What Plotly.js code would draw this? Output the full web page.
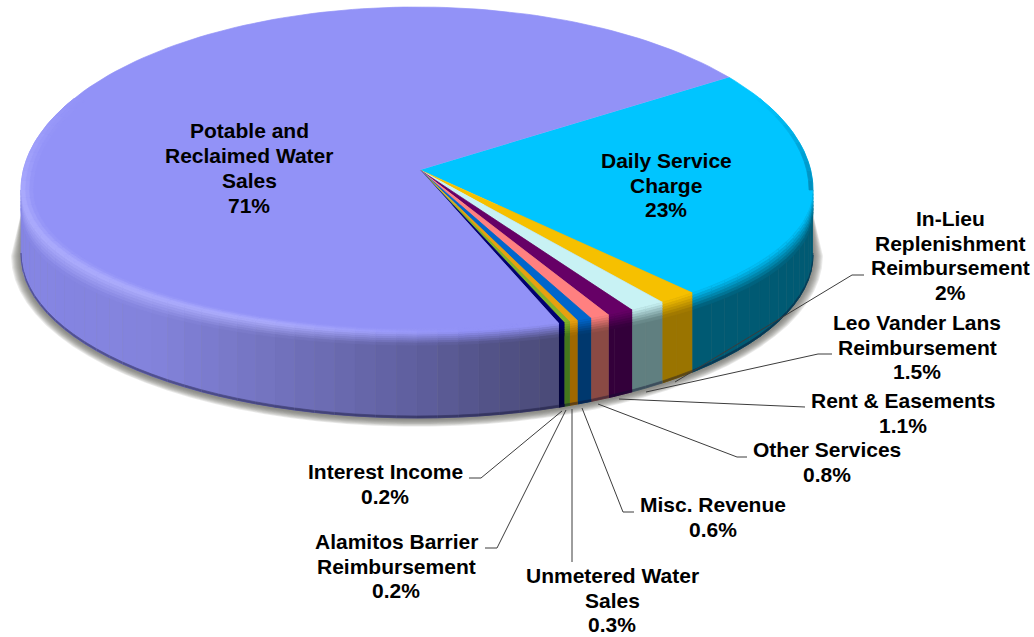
<!DOCTYPE html>
<html><head><meta charset="utf-8">
<script src="https://cdn.plot.ly/plotly-3.0.1.min.js"></script>
<style>html,body{margin:0;padding:0;background:#fff}#c{width:1034px;height:637px}</style>
</head><body><div id="c"></div>
<script>
// ---- data (shares as drawn; each rounds to its printed label) ----
const categories = ["Potable and Reclaimed Water Sales","Daily Service Charge","In-Lieu Replenishment Reimbursement","Leo Vander Lans Reimbursement","Rent & Easements","Other Services","Misc. Revenue","Unmetered Water Sales","Alamitos Barrier Reimbursement","Interest Income"];
const values = [70.5,23.4,1.6,1.5,1.1,0.8,0.6,0.34,0.24,0.24];
const valueLabels = ["71%","23%","2%","1.5%","1.1%","0.8%","0.6%","0.3%","0.2%","0.2%"];
const labelLines = [["Potable and","Reclaimed Water","Sales"],["Daily Service","Charge"],["In-Lieu","Replenishment","Reimbursement"],["Leo Vander Lans","Reimbursement"],["Rent & Easements"],["Other Services"],["Misc. Revenue"],["Unmetered Water","Sales"],["Alamitos Barrier","Reimbursement"],["Interest Income"]];
const faceColors = ["#9292F7","#00C5FF","#F6C000","#C8F2F4","#660066","#FF8080","#0066CC","#E8A010","#84B428","#000070"];
const sideColors = ["#6F6FB8","#005A73","#9A7400","#607F80","#33003A","#8A4A44","#00386E","#A06800","#44761C","#00003A"];
const labelX = [249,666,950,917,903,827,713,612,396,385];
const labelY = [168,185,255.5,347,413,462,517,600,566,484];
const leaders = [null,null,
  [[675,382],[852,275],[864,275]],
  [[646,392],[818,354],[832,354]],
  [[619,399],[790,407],[805,407]],
  [[598,404],[737,457],[747,457]],
  [[582,408],[623,512],[634,512]],
  [[572,409],[572,562]],
  [[566,410],[497,548],[485,548]],
  [[562,411],[481,478],[469,478]]];

// ---- pie geometry, style only ----
const apexX=420, apexY=170, cx=417, cy=190, rx=396, ryBack=183, ryFront=143, floorY=255, floorRy=163, startDeg=38;
const rad=d=>d*Math.PI/180;
const P=(t,s,dy)=>{const sn=Math.sin(rad(t));return [cx+rx*s*Math.cos(rad(t)), cy-(sn>0?ryBack:ryFront)*s*sn+dy];};
const F=t=>[cx+rx*Math.cos(rad(t)), floorY-floorRy*Math.sin(rad(t))];
const hex=c=>[1,3,5].map(i=>parseInt(c.substr(i,2),16));
const toHex=a=>'#'+a.map(v=>Math.round(v).toString(16).padStart(2,'0')).join('');
const mix=(a,b,k)=>{const A=hex(a),B=hex(b);return toHex(A.map((v,i)=>v+(B[i]-v)*k));};
const traces=[];
function poly(pts,color,op){
  traces.push({type:'scatter',mode:'lines',x:pts.map(p=>p[0]),y:pts.map(p=>p[1]),fill:'toself',fillcolor:color,
    line:{color:color,width:op?0:0.7},opacity:op||1,hoverinfo:'skip',showlegend:false});
}
const total=values.reduce((a,b)=>a+b,0);
let acc=startDeg;
const spans=values.map(()=>null);
const order=[1,2,3,4,5,6,7,8,9,0];
order.forEach(i=>{const w=values[i]/total*360; spans[i]=[acc,acc-w]; acc-=w;});

// soft shadow, tapering to nothing above the widest point
for(let k=9;k>=1;k--){
  const pts=[[cx+rx-2,205]];
  for(let t=0;t>=-180;t-=4){pts.push([cx+(rx+k*1.1)*Math.cos(rad(t)),floorY+1-(floorRy+k*0.85)*Math.sin(rad(t))]);}
  pts.push([cx-rx+2,205]);
  poly(pts,'#6a6a60',0.14);
}
const wallStops=[[20,'#8585E4'],[150,'#8383DC'],[300,'#6F6FB8'],[417,'#5F5F9E'],[480,'#54548A'],[560,'#4A4A76']];
function wallColor(i,x){
  if(i!==0) return sideColors[i];
  for(let j=1;j<wallStops.length;j++){
    if(x<=wallStops[j][0]){const a=wallStops[j-1],b=wallStops[j];return mix(a[1],b[1],(x-a[0])/(b[0]-a[0]));}
  }
  return wallStops[wallStops.length-1][1];
}
const dyT=t=>12+10*Math.pow(Math.cos(rad(t)),2);
function segments(i){
  const [a,b]=spans[i]; const hi=Math.min(a,0), lo=Math.max(b,-180);
  if(hi<=lo) return [];
  const step=3,segs=[]; let t=hi;
  while(t>lo){const n=Math.max(t-step,lo);segs.push([t,n]);t=n;}
  return segs;
}
// walls
order.forEach(i=>{segments(i).forEach(([t0,t1])=>{
  const x=(P(t0,1,0)[0]+P(t1,1,0)[0])/2;
  const w=wallColor(i,x);
  poly([P(t0,1,0),P(t1,1,0),F(t1),F(t0)],w);
  const a=F(t0),b=F(t1);
  poly([[a[0],a[1]-2],[b[0],b[1]-2],b,a],mix(w,'#101030',0.45));
});});
// top faces
order.forEach(i=>{
  const [a,b]=spans[i]; const pts=[[apexX,apexY]];
  const n=Math.max(2,Math.ceil((a-b)/1.5));
  for(let k=0;k<=n;k++){pts.push(P(a+(b-a)*k/n,1,0));}
  poly(pts,faceColors[i]);
});
// front rim: soft blend from the face into the wall
const rings=[0.97,0.98,0.99,1];
order.forEach(i=>{segments(i).forEach(([t0,t1])=>{
  const tm=(t0+t1)/2, x=P(tm,1,0)[0];
  const w=wallColor(i,x), f=faceColors[i];
  const hl=(i===0)?Math.max(0,Math.min(1,(470-x)/200)):0;
  const top=mix(f,'#B4B4FF',0.8*hl);
  const d0=dyT(t0), d1=dyT(t1);
  if(i===0) for(let r=0;r<3;r++){
    poly([P(t0,rings[r],0),P(t1,rings[r],0),P(t1,rings[r+1],0),P(t0,rings[r+1],0)],mix(f,top,(r+0.5)/3));
  }
  const m=6;
  for(let j=0;j<m;j++){
    const u0=j/m,u1=(j+1)/m,c=mix(top,w,(u0+u1)/2);
    poly([P(t0,1,d0*u0),P(t1,1,d1*u0),P(t1,1,d1*u1),P(t0,1,d0*u1)],c);
  }
});});
// back rim near both tips
for(let t=180;t>150;t-=3){
  const c=(t-150)/30;
  for(let r=0;r<3;r++){
    poly([P(t,rings[r],0),P(t-3,rings[r],0),P(t-3,rings[r+1],0),P(t,rings[r+1],0)],mix(faceColors[0],'#B0B0FF',0.8*c*(r+0.5)/3));
  }
}
for(let t=30;t>0;t-=3){
  const c=1-(t-1.5)/30;
  poly([P(t,0.99,0),P(t-3,0.99,0),P(t-3,1,0),P(t,1,0)],mix(faceColors[1],'#00486A',0.45*c));
}
// leader lines
leaders.forEach(l=>{ if(!l) return;
  traces.push({type:'scatter',mode:'lines',x:l.map(p=>p[0]),y:l.map(p=>p[1]),line:{color:'#3c3c3c',width:1},hoverinfo:'skip',showlegend:false});
});
// labels: one text per line so the tight line pitch can be kept
const pitch=24.7, annotations=[];
categories.forEach((c,i)=>{
  const lines=labelLines[i].concat([valueLabels[i]]);
  lines.forEach((txt,j)=>{
    annotations.push({x:labelX[i],y:labelY[i]+(j-(lines.length-1)/2)*pitch,xref:'x',yref:'y',showarrow:false,align:'center',xanchor:'center',yanchor:'middle',
      text:txt,font:{family:'"Liberation Sans",Arial,sans-serif',size:21,color:'#000',weight:700}});
  });
});

Plotly.newPlot('c',traces,{
  width:1034,height:637,margin:{l:0,r:0,t:0,b:0},paper_bgcolor:'#fff',plot_bgcolor:'#fff',showlegend:false,
  xaxis:{range:[0,1034],visible:false,fixedrange:true},
  yaxis:{range:[637,0],visible:false,fixedrange:true},
  annotations:annotations
},{displayModeBar:false,staticPlot:true});
</script></body></html>
